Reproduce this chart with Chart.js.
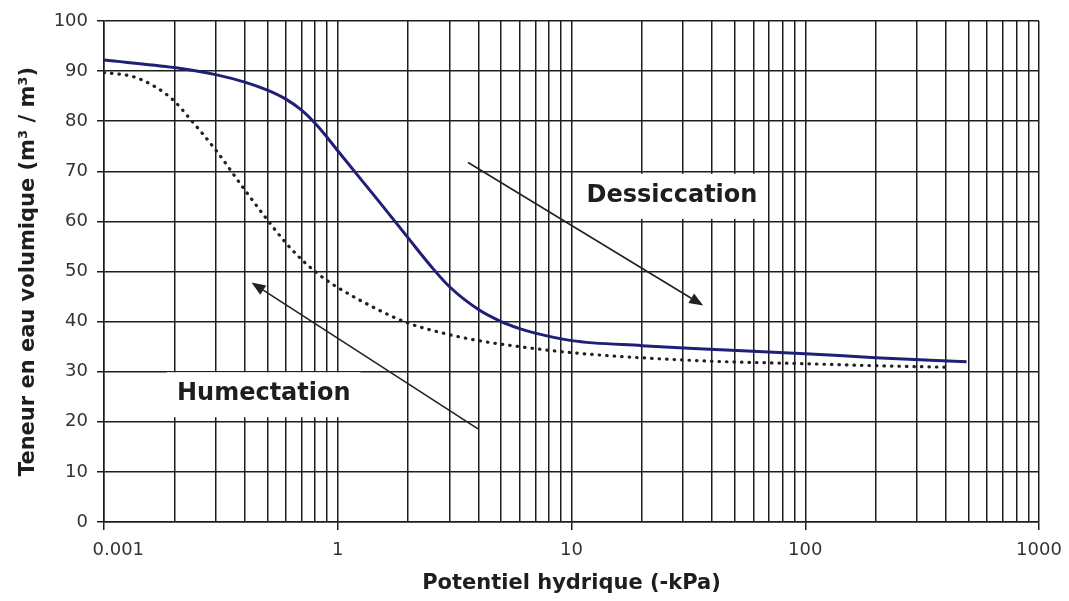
<!DOCTYPE html>
<html>
<head>
<meta charset="utf-8">
<script src="https://cdn.jsdelivr.net/npm/chart.js@4.4.1/dist/chart.umd.min.js"></script>
<style>
  html, body { margin: 0; padding: 0; background: #fff; }
  #wrap { width: 1069px; height: 601px; }
</style>
</head>
<body>
<div id="wrap"><canvas id="courbe"></canvas></div>
<script>
// courbe de dessiccation (trait plein)
const dessX = [0.1, 0.2, 0.3, 0.4, 0.5, 0.6, 0.7, 0.8, 0.9, 1, 1.5, 2, 2.5, 3, 4, 5, 6, 7, 10, 20, 35, 100, 200, 490];
const dessY = [92.2, 90.7, 89.3, 87.8, 86.2, 84.4, 82.2, 79.6, 76.8, 74.1, 64.0, 56.7, 51.1, 47.0, 42.4, 40.0, 38.6, 37.7, 36.2, 35.2, 34.6, 33.6, 32.8, 32.0];

// courbe d'humectation (pointillés)
const humX = [0.1, 0.133, 0.168, 0.2, 0.233, 0.3, 0.4, 0.5, 0.6, 0.7, 0.8, 0.9, 1, 1.5, 2, 3, 4, 5, 10, 35, 100, 200, 400];
const humY = [89.7, 88.9, 86.7, 84.0, 80.5, 74.3, 66.3, 60.3, 55.7, 52.4, 50.0, 48.2, 46.8, 42.3, 39.7, 37.4, 36.2, 35.5, 33.8, 32.2, 31.6, 31.2, 30.9];

// graduations (l'original affiche "0.001" sous la première graduation)
const xTickValues = [0.1, 1, 10, 100, 1000];
const xTickLabels = ['0.001', '1', '10', '100', '1000'];

// textes et flèches, placés en coordonnées des données
const notes = [
    { text: 'Dessiccation', x: 26.9, y: 65.1 },
    { text: 'Humectation', x: 0.4825, y: 25.5 }
];
const arrows = [
    { from: [3.61, 71.75], to: [36.6, 43.2] },
    { from: [3.98, 18.6], to: [0.4275, 47.8] }
];

const police = '"DejaVu Sans", sans-serif';
const grille = '#1e1e1e';

// lignes verticales : 1..9 par décade
const gridValues = [];
for (let e = -1; e < 3; e++) {
    for (let m = 1; m < 10; m++) {
        gridValues.push(Number((m * Math.pow(10, e)).toPrecision(3)));
    }
}
gridValues.push(1000);

const annotations = {
    id: 'annotations',
    beforeDatasetsDraw(chart) {
        const { ctx, scales: { x, y } } = chart;
        ctx.save();
        ctx.font = 'bold 24px ' + police;
        ctx.textAlign = 'center';
        ctx.textBaseline = 'middle';
        notes.forEach(n => {
            const px = x.getPixelForValue(n.x);
            const py = y.getPixelForValue(n.y);
            const w = ctx.measureText(n.text).width;
            ctx.fillStyle = '#fff';
            ctx.fillRect(px - w / 2 - 10, py - 22, w + 20, 45);
            ctx.fillStyle = '#1e1e1e';
            ctx.fillText(n.text, px, py);
        });
        ctx.restore();
    },
    afterDatasetsDraw(chart) {
        const { ctx, scales: { x, y } } = chart;
        ctx.save();
        ctx.strokeStyle = '#222';
        ctx.fillStyle = '#222';
        ctx.lineWidth = 1.6;
        arrows.forEach(a => {
            const x1 = x.getPixelForValue(a.from[0]), y1 = y.getPixelForValue(a.from[1]);
            const x2 = x.getPixelForValue(a.to[0]), y2 = y.getPixelForValue(a.to[1]);
            const ang = Math.atan2(y2 - y1, x2 - x1);
            const L = 14, W = 5.5;
            const bx = x2 - L * Math.cos(ang), by = y2 - L * Math.sin(ang);
            ctx.beginPath();
            ctx.moveTo(x1, y1);
            ctx.lineTo(bx, by);
            ctx.stroke();
            ctx.beginPath();
            ctx.moveTo(x2, y2);
            ctx.lineTo(bx + W * Math.sin(ang), by - W * Math.cos(ang));
            ctx.lineTo(bx - W * Math.sin(ang), by + W * Math.cos(ang));
            ctx.closePath();
            ctx.fill();
        });
        ctx.restore();
    }
};

new Chart(document.getElementById('courbe').getContext('2d'), {
    type: 'line',
    data: {
        datasets: [{
            label: 'Dessiccation',
            data: dessX.map((v, i) => ({ x: v, y: dessY[i] })),
            borderColor: '#1f1f78',
            borderWidth: 3,
            pointRadius: 0,
            cubicInterpolationMode: 'monotone'
        }, {
            label: 'Humectation',
            data: humX.map((v, i) => ({ x: v, y: humY[i] })),
            borderColor: '#222',
            borderWidth: 3.2,
            borderDash: [0.5, 7],
            borderCapStyle: 'round',
            pointRadius: 0,
            cubicInterpolationMode: 'monotone'
        }]
    },
    options: {
        responsive: true,
        maintainAspectRatio: false,
        animation: false,
        layout: { padding: { top: 21, right: 30, left: 0, bottom: 0 } },
        plugins: {
            legend: { display: false },
            tooltip: { enabled: false }
        },
        scales: {
            x: {
                type: 'logarithmic',
                min: 0.1,
                max: 1000,
                afterBuildTicks: s => { s.ticks = gridValues.map(v => ({ value: v })); },
                afterFit: s => { s.height = 79; s.paddingRight = 30; },
                grid: {
                    color: grille,
                    lineWidth: 1.5,
                    tickLength: 8,
                    tickColor: c => (c.tick && xTickValues.includes(c.tick.value)) ? grille : 'rgba(0,0,0,0)'
                },
                border: { color: grille, width: 1.5 },
                ticks: {
                    autoSkip: false,
                    maxRotation: 0,
                    padding: 10,
                    color: '#333',
                    font: { family: police, size: 18 },
                    callback: v => {
                        const i = xTickValues.indexOf(v);
                        if (i < 0) return '';
                        // le premier libellé est décalé vers la droite comme dans l'original
                        return i === 0 ? '     ' + xTickLabels[i] : xTickLabels[i];
                    }
                },
                title: {
                    display: true,
                    text: 'Potentiel hydrique (-kPa)',
                    color: '#1e1e1e',
                    font: { family: police, size: 21, weight: 'bold' },
                    padding: { top: 0, bottom: 5 }
                }
            },
            y: {
                min: 0,
                max: 100,
                afterFit: s => { s.width = 104; },
                grid: { color: grille, lineWidth: 1.5, tickLength: 7 },
                border: { color: grille, width: 1.5 },
                ticks: {
                    stepSize: 10,
                    padding: 9,
                    color: '#333',
                    font: { family: police, size: 18 }
                },
                title: {
                    display: true,
                    text: 'Teneur en eau volumique (m³ / m³)',
                    color: '#1e1e1e',
                    font: { family: police, size: 21, weight: 'bold' },
                    padding: { top: 16, bottom: 0 }
                }
            }
        }
    },
    plugins: [annotations]
});
</script>
</body>
</html>
